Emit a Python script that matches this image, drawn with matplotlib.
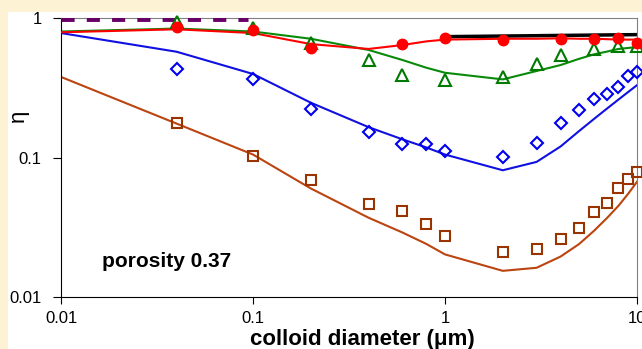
import matplotlib.pyplot as plt
import matplotlib.patches as mpatches
from matplotlib.ticker import FixedLocator, NullLocator, FixedFormatter

plt.rcParams['font.family'] = ['Liberation Sans', 'DejaVu Sans']

# measured data points
d_circle = [0.04, 0.1, 0.2, 0.6, 1, 2, 4, 6, 8, 10]
eta_circle = [0.86, 0.82, 0.61, 0.65, 0.72, 0.70, 0.71, 0.71, 0.72, 0.66]

d_tri = [0.04, 0.1, 0.2, 0.4, 0.6, 1, 2, 3, 4, 6, 8, 10]
eta_tri = [0.94, 0.85, 0.665, 0.50, 0.39, 0.36, 0.377, 0.466, 0.54, 0.60, 0.63, 0.63]

d_diam = [0.04, 0.1, 0.2, 0.4, 0.6, 0.8, 1, 2, 3, 4, 5, 6, 7, 8, 9, 10]
eta_diam = [0.43, 0.365, 0.222, 0.153, 0.125, 0.124, 0.112, 0.101, 0.128,
            0.178, 0.219, 0.264, 0.285, 0.319, 0.382, 0.41]

d_sq = [0.04, 0.1, 0.2, 0.4, 0.6, 0.8, 1, 2, 3, 4, 5, 6, 7, 8, 9, 10]
eta_sq = [0.178, 0.103, 0.069, 0.0462, 0.0416, 0.0332, 0.0275, 0.0209, 0.0221,
          0.026, 0.0314, 0.0407, 0.047, 0.060, 0.070, 0.079]

# model curves
d_model = [0.01, 0.04, 0.1, 0.2, 0.4, 0.6, 0.8, 1, 2, 3, 4, 5, 6, 7, 8, 9, 10]
eta_red = [0.79, 0.83, 0.78, 0.65, 0.60, 0.64, 0.68, 0.70, 0.71, 0.71, 0.715,
           0.71, 0.71, 0.705, 0.70, 0.70, 0.70]
eta_green = [0.80, 0.84, 0.80, 0.71, 0.59, 0.50, 0.44, 0.405, 0.363, 0.417,
             0.46, 0.51, 0.55, 0.575, 0.60, 0.61, 0.62]
eta_blue = [0.78, 0.573, 0.397, 0.247, 0.165, 0.135, 0.118, 0.105, 0.081, 0.093,
            0.12, 0.155, 0.19, 0.225, 0.26, 0.295, 0.33]
eta_brown = [0.378, 0.175, 0.105, 0.06, 0.037, 0.029, 0.024, 0.0202, 0.0154,
             0.0162, 0.0195, 0.024, 0.030, 0.037, 0.045, 0.055, 0.067]

d_black = [1, 10]
eta_black = [0.735, 0.76]

d_purple = [0.01, 0.094]
eta_purple = [0.98, 0.98]

W, H = 642, 349
fig = plt.figure(figsize=(W / 100, H / 100), dpi=100)
fig.patch.set_facecolor('#fdf2d4')
# white panel behind the plot
fig.patches.append(mpatches.Rectangle((8 / W, 0), 1, 1 - 12 / H,
                                      transform=fig.transFigure,
                                      facecolor='white', edgecolor='none', zorder=-5))

ax = fig.add_axes([61 / W, 1 - 297 / H, (637 - 61) / W, (297 - 18) / H])
ax.set_facecolor('white')
ax.set_xscale('log')
ax.set_yscale('log')
ax.set_xlim(0.01, 10)
ax.set_ylim(0.01, 1)

# lines
ax.plot(d_black, eta_black, color='black', lw=2.5, zorder=2)
ax.plot(d_model, eta_brown, color='#bb4410', lw=1.5, zorder=2)
ax.plot(d_model, eta_blue, color='#1010e0', lw=1.5, zorder=2)
ax.plot(d_model, eta_green, color='#0a8a0a', lw=1.5, zorder=2)
ax.plot(d_model, eta_red, color='#ff0000', lw=1.5, zorder=3)
ax.plot(d_purple, eta_purple, color='#660066', lw=3.5, dashes=(2.7, 2.5),
        solid_capstyle='butt', zorder=3)

# points
ax.plot(d_sq, eta_sq, ls='none', marker='s', ms=7.5, mfc='none', mec='#993300',
        mew=1.5, zorder=4, clip_on=False)
ax.plot(d_diam, eta_diam, ls='none', marker='D', ms=6, mfc='none', mec='#0000ee',
        mew=1.5, zorder=4, clip_on=False)
ax.plot(d_tri, eta_tri, ls='none', marker='^', ms=9, mfc='none', mec='#007a00',
        mew=1.5, zorder=4, clip_on=False)
ax.plot(d_circle, eta_circle, ls='none', marker='o', ms=7.5, mfc='#ff0000',
        mec='#ff0000', zorder=5, clip_on=False)

# axes styling
for s in ['top', 'right']:
    ax.spines[s].set_color('#808080')
for s in ['left', 'bottom']:
    ax.spines[s].set_color('black')

ax.xaxis.set_major_locator(FixedLocator([0.01, 0.1, 1, 10]))
ax.xaxis.set_major_formatter(FixedFormatter(['0.01', '0.1', '1', '10']))
ax.yaxis.set_major_locator(FixedLocator([0.01, 0.1, 1]))
ax.yaxis.set_major_formatter(FixedFormatter(['0.01', '0.1', '1']))
ax.xaxis.set_minor_locator(NullLocator())
ax.yaxis.set_minor_locator(NullLocator())
ax.tick_params(axis='x', which='major', direction='out', length=5, pad=5,
               labelsize=12, color='black', top=False)
ax.tick_params(axis='y', which='major', direction='out', length=6, pad=8,
               labelsize=12, color='black', right=False)

# axis titles placed in figure pixels
fig.text(362 / W, 1 - 345 / H, 'colloid diameter (\u03bcm)', fontsize=16,
         fontweight='bold', ha='center', va='baseline')
fig.text(18 / W, 1 - 116 / H, '\u03b7', fontsize=16, rotation=90,
         ha='center', va='center')

ax.text(0.0164, 0.0164, 'porosity 0.37', fontsize=15, fontweight='bold',
        va='baseline')

fig.savefig('out.png', dpi=100, facecolor=fig.get_facecolor())
